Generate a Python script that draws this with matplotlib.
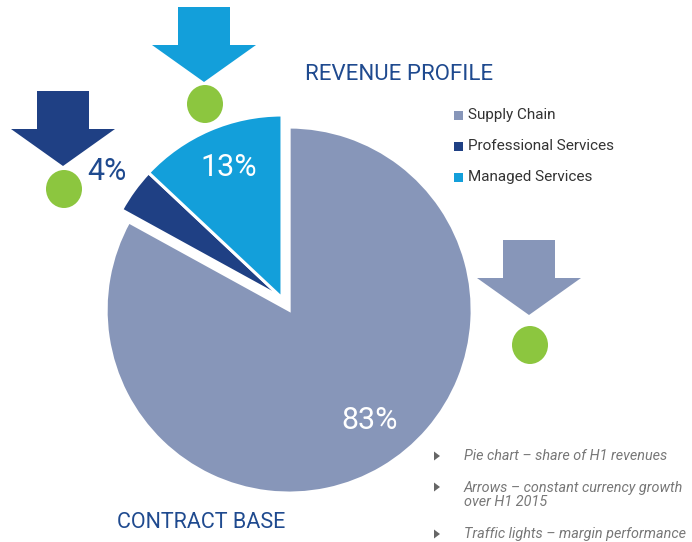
import numpy as np
import matplotlib
matplotlib.use("Agg")
import matplotlib.pyplot as plt
from matplotlib.patches import Polygon, Ellipse, Rectangle

# data
segments = ["Supply Chain", "Professional Services", "Managed Services"]
shares = [83, 4, 13]
seg_colors = ["#8796b9", "#1f4084", "#139fda"]
bullets = ["Pie chart \u2013 share of H1 revenues",
           "Arrows \u2013 constant currency growth\nover H1 2015",
           "Traffic lights \u2013 margin performance"]

W, H = 692, 542
plt.rcParams["font.family"] = ["Roboto", "DejaVu Sans"]

def Y(y):
    return H - y

fig = plt.figure(figsize=(W / 100, H / 100), dpi=100)
ax = fig.add_axes([0, 0, 1, 1])

R = 183
cx, cy = 282, Y(298)
# explode is in data units (pixels here), not a fraction of the radius
wedges, _ = ax.pie(shares, colors=seg_colors, startangle=90, counterclock=False,
                   explode=[14, 0, 0], radius=R, center=(cx, cy),
                   wedgeprops=dict(edgecolor="white", linewidth=2.2))
# pie() resets limits, so set the pixel frame afterwards
ax.set_xlim(0, W)
ax.set_ylim(0, H)
ax.set_aspect("equal")
ax.axis("off")

# percentage labels
label_dist = [0.75, 1.18, 0.77]
label_rot = [5.5, 0, -1]
label_col = ["white", "#1f4a8f", "white"]
for w, s, d, r, c in zip(wedges, shares, label_dist, label_rot, label_col):
    ang = np.deg2rad((w.theta1 + w.theta2) / 2 + r)
    x0, y0 = w.center
    ax.text(x0 + d * R * np.cos(ang), y0 + d * R * np.sin(ang), f"{s}%",
            color=c, fontsize=22, ha="center", va="center")

# growth arrows + traffic lights
def arrow(xc, top, col):
    sw, hw, sh, hh = 26, 52, 38, 37
    pts = [(xc - sw, top), (xc + sw, top), (xc + sw, top + sh), (xc + hw, top + sh),
           (xc, top + sh + hh), (xc - hw, top + sh), (xc - sw, top + sh)]
    ax.add_patch(Polygon([(x, Y(y)) for x, y in pts], closed=True, color=col, lw=0))

arrow_x = [529, 63, 204]
arrow_top = [240, 91, 7]
light_y = [345, 189, 104]
for xa, ta, ly, c in zip(arrow_x, arrow_top, light_y, seg_colors):
    arrow(xa, ta, c)
    ax.add_patch(Ellipse((xa + 1, Y(ly)), 36, 38, color="#8cc63f", lw=0))

# titles
ax.text(305, Y(74), "REVENUE PROFILE", color="#1f4a8f", fontsize=16,
        ha="left", va="center")
ax.text(117, Y(523), "CONTRACT BASE", color="#1f4a8f", fontsize=15.5,
        ha="left", va="center")

# legend
leg_y = [115, 146, 177]
for name, c, ly in zip(segments, seg_colors, leg_y):
    ax.add_patch(Rectangle((454, Y(ly) - 4.5), 9, 9, color=c, lw=0))
    ax.text(468, Y(ly), name, color="#333333", fontsize=11, ha="left", va="center")

# notes
note_y = [456, 495, 534]
for txt, ny in zip(bullets, note_y):
    ax.text(464, Y(ny), txt, color="#777777", fontsize=10.4, style="italic",
            ha="left", va="center", linespacing=1.0)
for ny in [456, 487, 534]:
    ax.add_patch(Polygon([(434, Y(ny) + 4.5), (434, Y(ny) - 4.5), (440, Y(ny))],
                         closed=True, color="#666666", lw=0))

fig.savefig("out.png", dpi=100)
